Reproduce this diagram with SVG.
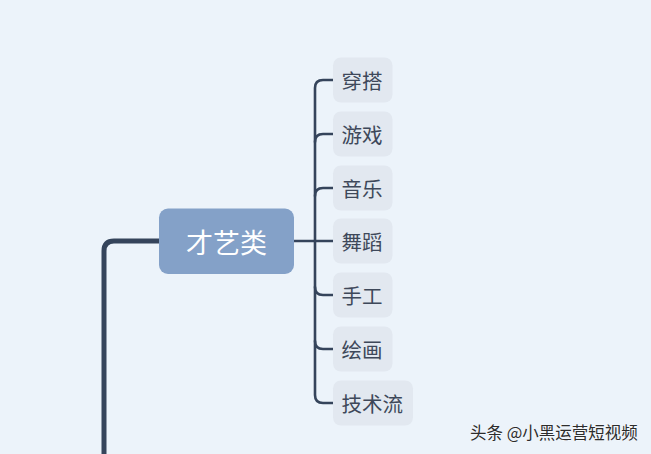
<svg xmlns="http://www.w3.org/2000/svg" width="651" height="454" viewBox="0 0 651 454">
<style>
.c{fill:none;stroke:#35445b;stroke-linecap:round}
.t{stroke-width:2.6}
.cb{fill:#e2e8f0}
.ct{font-family:"Noto Sans CJK SC","Noto Sans",sans-serif;font-size:20.5px;fill:#3e485a;dominant-baseline:central}
</style>
<rect width="651" height="454" fill="#ecf3fa"/>
<g id="connectors">
<path class="c" stroke-width="5" d="M160 241 H114 Q104 241 104 251 V460"/>
<path class="c t" d="M293 241 H315"/>
<path class="c t" d="M333 80 H323 Q315 80 315 88 V395 Q315 403 323 403 H333"/>
<path class="c t" d="M333 134 H323 Q315 134 315 142"/>
<path class="c t" d="M333 188 H323 Q315 188 315 196"/>
<path class="c t" d="M315 241 H333"/>
<path class="c t" d="M333 295 H323 Q315 295 315 287"/>
<path class="c t" d="M333 349 H323 Q315 349 315 341"/>
</g>
<g id="main">
<rect x="159" y="208.5" width="135" height="65.5" rx="9" fill="#84a1c8"/>
<text x="226.5" y="241" text-anchor="middle" dominant-baseline="central" font-family="Noto Sans CJK SC,sans-serif" font-size="27" fill="#ffffff">才艺类</text>
</g>
<g id="n1"><rect class="cb" x="333" y="57.5" width="59.5" height="45" rx="8"/><text class="ct" x="341.5" y="79.5">穿搭</text></g>
<g id="n2"><rect class="cb" x="333" y="111.5" width="59.5" height="45" rx="8"/><text class="ct" x="341.5" y="133.5">游戏</text></g>
<g id="n3"><rect class="cb" x="333" y="165.5" width="59.5" height="45" rx="8"/><text class="ct" x="341.5" y="187.5">音乐</text></g>
<g id="n4"><rect class="cb" x="333" y="218.5" width="59.5" height="45" rx="8"/><text class="ct" x="341.5" y="240.5">舞蹈</text></g>
<g id="n5"><rect class="cb" x="333" y="272.5" width="59.5" height="45" rx="8"/><text class="ct" x="341.5" y="294.5">手工</text></g>
<g id="n6"><rect class="cb" x="333" y="326.5" width="59.5" height="45" rx="8"/><text class="ct" x="341.5" y="348.5">绘画</text></g>
<g id="n7"><rect class="cb" x="333" y="380.5" width="80" height="45" rx="8"/><text class="ct" x="341.5" y="402.5">技术流</text></g>
<text x="470" y="432" dominant-baseline="central" font-family="Noto Sans CJK SC,sans-serif" font-size="16.5" fill="#2c2c2c" stroke="#ffffff" stroke-width="0.4" paint-order="stroke">头条 @小黑运营短视频</text>
</svg>
